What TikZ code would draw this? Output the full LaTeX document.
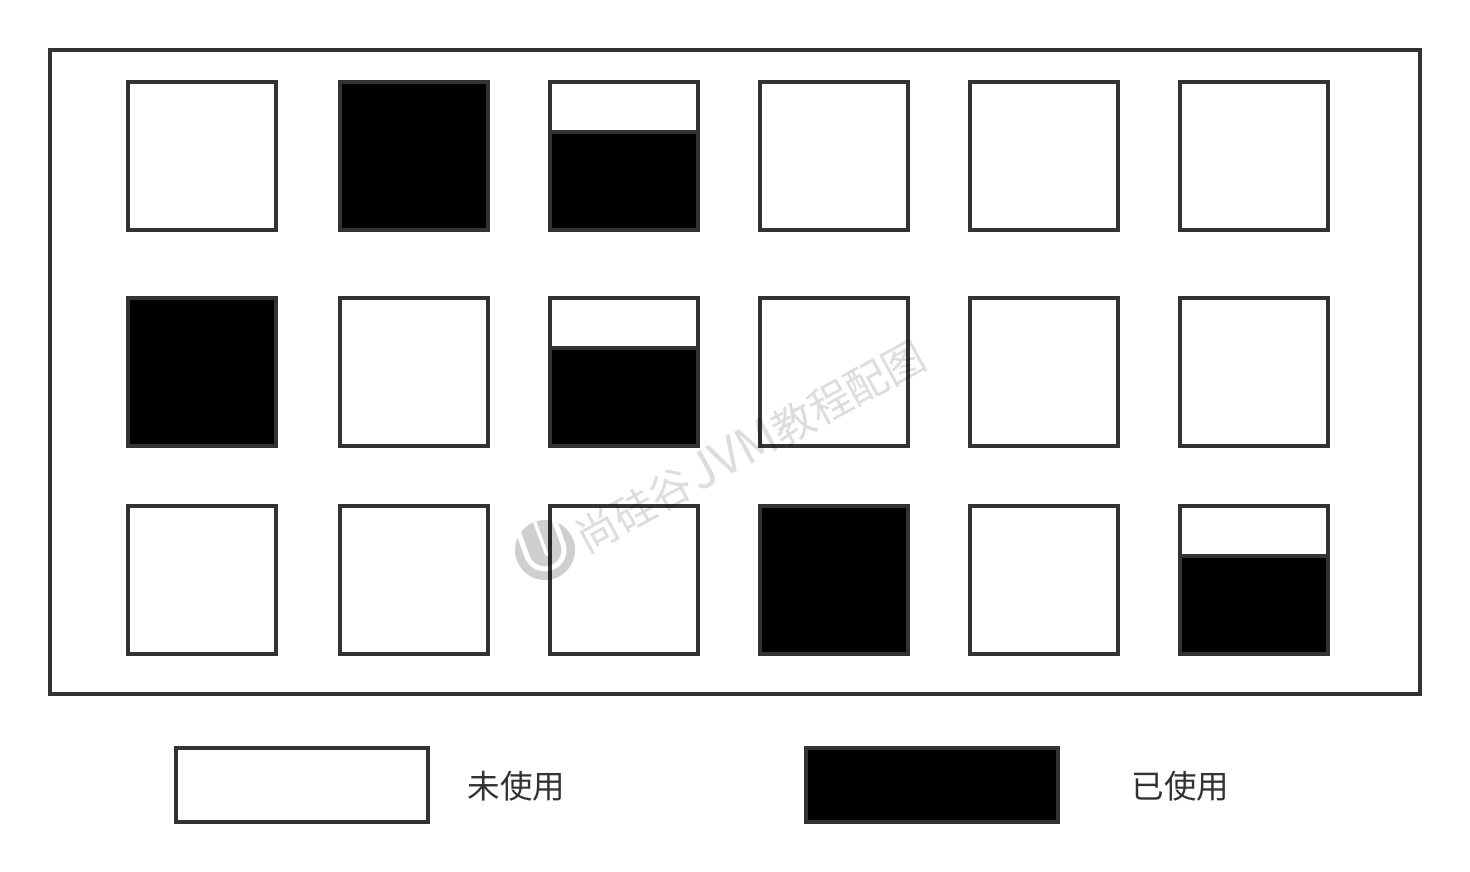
\documentclass[tikz,border=0pt]{standalone}
\usepackage{fontspec}
\newfontfamily\cjk{Noto Sans CJK SC}
\definecolor{cellInk}{HTML}{333333}
\definecolor{markGray}{HTML}{DDDDDD}
\definecolor{logoGray}{HTML}{CFCFCF}
\usetikzlibrary{positioning}

\begin{document}
\begin{tikzpicture}[
        x=0.75pt,
        y=-0.75pt,
        cell/.style={
          draw=cellInk,
          fill=white,
          line width=3pt,
          minimum width=111pt,
          minimum height=111pt,
          inner sep=0pt,
          outer sep=0pt,
        },
        used/.style={cell, fill=black},
        halftop/.style={cell, minimum height=37.5pt},
        halfbot/.style={used, minimum height=73.5pt},
        legendbox/.style={cell, minimum width=189pt, minimum height=55.5pt},
        legendused/.style={legendbox, fill=black},
        legendtext/.style={text=cellInk, font=\cjk\fontsize{24.4pt}{28pt}\selectfont, inner sep=0pt},
        watermark/.style={text=markGray, font=\cjk\fontsize{31.5pt}{36pt}\selectfont, inner sep=0pt},
      ]
        \useasboundingbox (0,0) rectangle (1470,871);
        \node[draw=cellInk, line width=3pt, minimum width=1027.5pt, minimum height=483pt, inner sep=0pt, outer sep=0pt] (pool) at (735,372) {};

        % first row
        \node[cell] (a1) at (202,156) {};
        \node[used, right=48pt of a1] (a2) {};
        \node[halftop, right=46.5pt of a2.north east, anchor=north west] (a3top) {};
        \node[halfbot, below=0pt of a3top] (a3) {};
        \node[cell, right=46.5pt of a3top.north east, anchor=north west] (a4) {};
        \node[cell, right=46.5pt of a4] (a5) {};
        \node[cell, right=46.5pt of a5] (a6) {};

        % second row
        \node[used, below=51pt of a1] (b1) {};
        \node[cell, right=48pt of b1] (b2) {};
        \node[halftop, right=46.5pt of b2.north east, anchor=north west] (b3top) {};
        \node[halfbot, below=0pt of b3top] (b3) {};
        \node[cell, right=46.5pt of b3top.north east, anchor=north west] (b4) {};
        \node[cell, right=46.5pt of b4] (b5) {};
        \node[cell, right=46.5pt of b5] (b6) {};

        % third row
        \node[cell, below=45pt of b1] (c1) {};
        \node[cell, right=48pt of c1] (c2) {};
        \node[cell, right=46.5pt of c2] (c3) {};
        \node[used, right=46.5pt of c3] (c4) {};
        \node[cell, right=46.5pt of c4] (c5) {};
        \node[halftop, right=46.5pt of c5.north east, anchor=north west] (c6top) {};
        \node[halfbot, below=0pt of c6top] (c6) {};

        % legend
        \node[legendbox] (free) at (302,785) {};
        \node[legendtext] (freetext) at (516.5,786) {未使用};
        \node[legendused] (taken) at (932,785) {};
        \node[legendtext] (takentext) at (1180.5,786) {已使用};

        % watermark
        \begin{scope}[transparency group, blend mode=multiply]
          \node[watermark, rotate=28.7] (marktext) at (750,446) {尚硅谷\kern2pt{\fontsize{37pt}{36pt}\selectfont JVM}教程配图};
          \fill[logoGray] (545,550) circle (22.5pt);
          \draw[white, line width=3.75pt, rotate around={20:(545,550)}] (526,518) -- (526,550) arc[start angle=180, end angle=360, radius=14.25pt] -- (564,518);
          \draw[white, line width=2.5pt, rotate around={20:(545,550)}] (545,518) -- (545,556);
        \end{scope}
      \end{tikzpicture}
\end{document}
